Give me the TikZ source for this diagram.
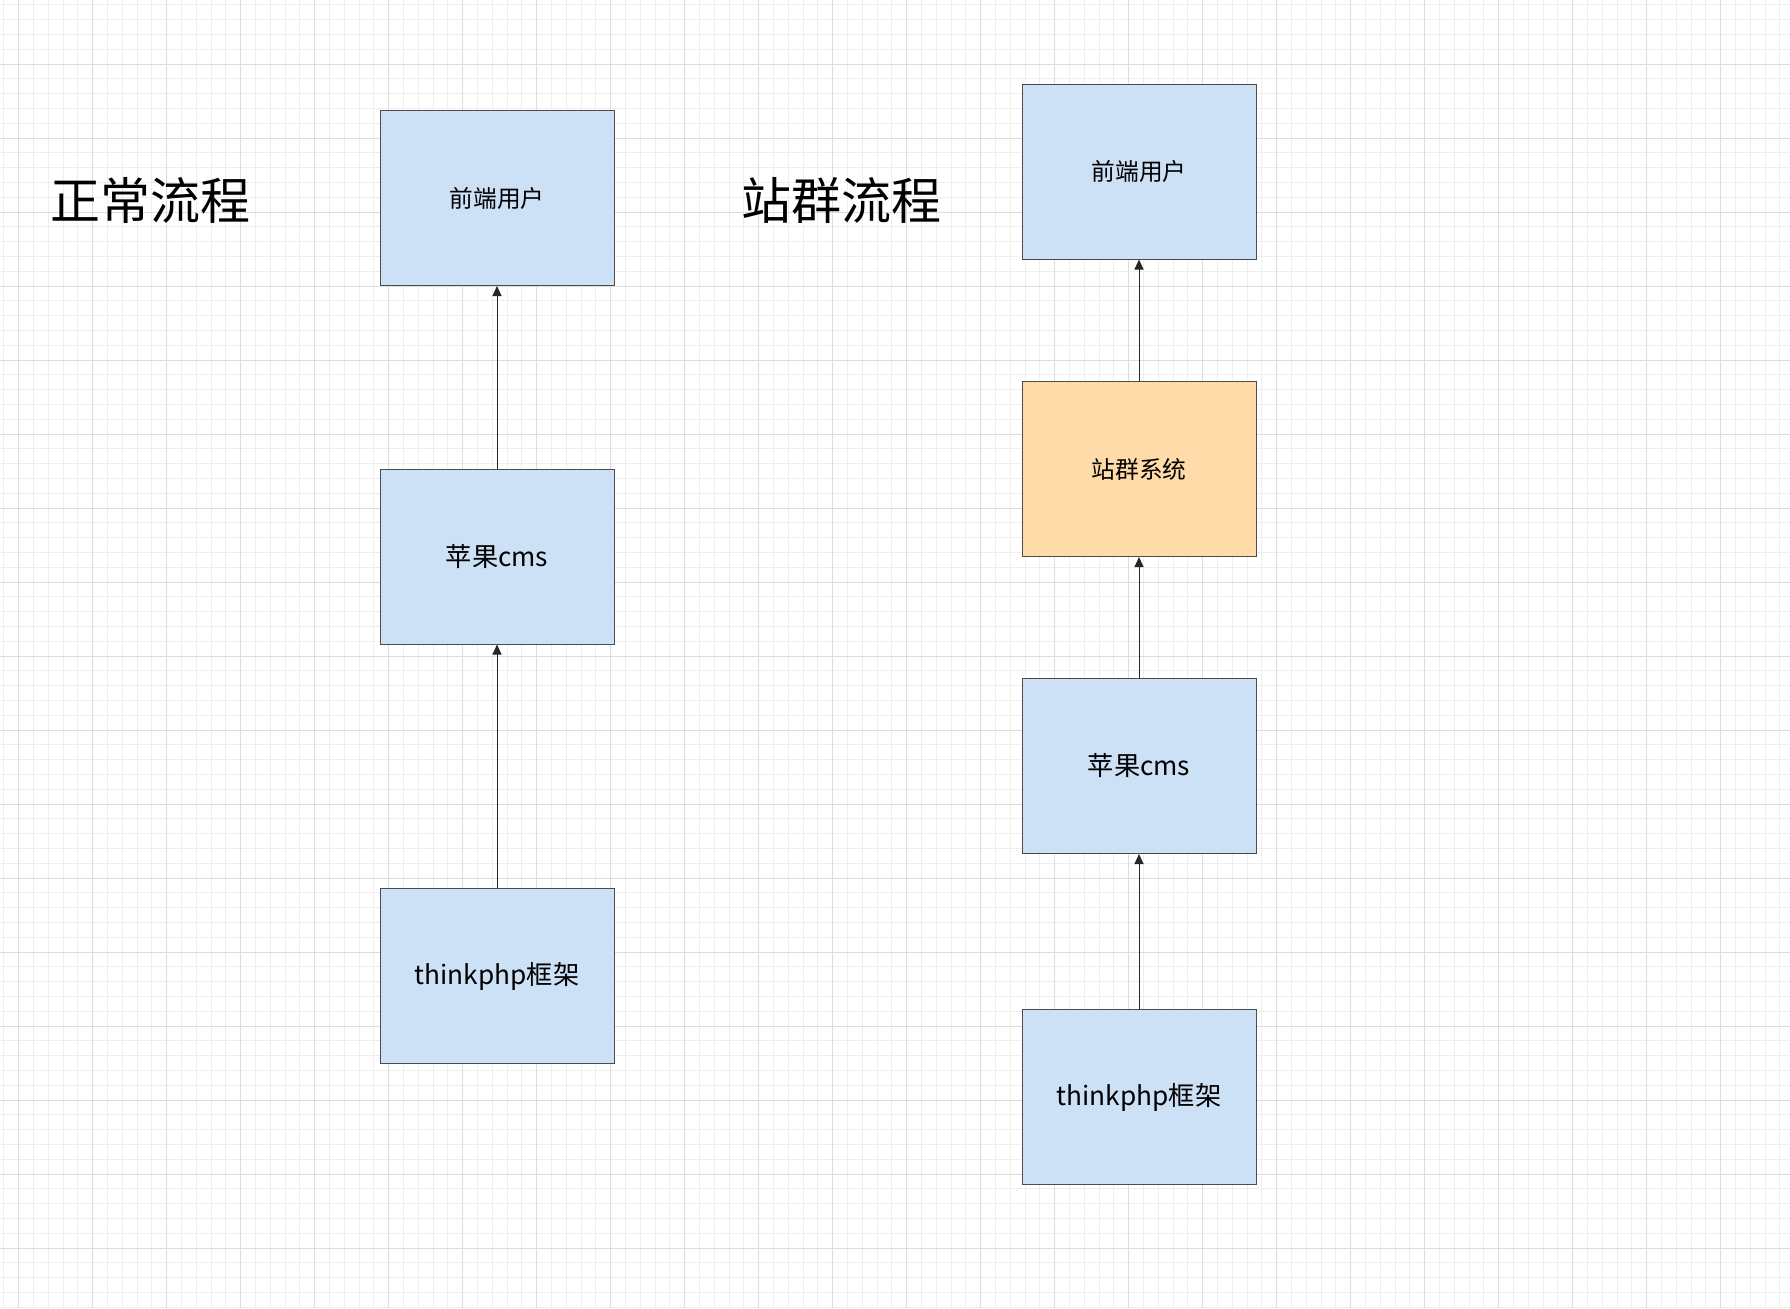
\documentclass[tikz,border=0pt]{standalone}
\usepackage{fontspec}
\setmainfont{Noto Sans CJK SC}
\usetikzlibrary{arrows.meta}
\definecolor{bluef}{HTML}{CCE1F6}
\definecolor{orangef}{HTML}{FFDBA9}
\definecolor{minorg}{HTML}{EEEEEE}
\definecolor{majorg}{HTML}{DDDDDD}
\begin{document}
\begin{tikzpicture}[x=0.4pt,y=-0.4pt,
  box/.style={draw=black!70,line width=0.4pt,fill=bluef,minimum width=93.6pt,minimum height=70pt,inner sep=0pt,font=\fontsize{9.5}{11}\selectfont},
  arr/.style={-{Triangle[length=4pt,width=3.6pt]},line width=0.4pt,black!85},
  ttl/.style={font=\fontsize{20}{24}\selectfont}]
\fill[white] (0,0) rectangle (1790,1308);
\useasboundingbox (0,0) rectangle (1790,1308);
\foreach \i in {0,...,121} {\draw[minorg,line width=0.3pt] ({3.7+14.8*\i},0) -- ({3.7+14.8*\i},1308);}
\foreach \i in {0,...,89} {\draw[minorg,line width=0.3pt] (0,{4.8+14.8*\i}) -- (1790,{4.8+14.8*\i});}
\foreach \i in {0,...,24} {\draw[majorg,line width=0.4pt] ({18.5+74*\i},0) -- ({18.5+74*\i},1308);}
\foreach \i in {0,...,18} {\draw[majorg,line width=0.4pt] (0,{64+74*\i}) -- (1790,{64+74*\i});}
\node[ttl] (t1) at (150,200) {正常流程};
\node[ttl] (t2) at (841,200) {站群流程};
\node[box] (a1) at (497,198) {前端用户};
\node[box] (a2) at (497,556.5) {\fontsize{10.5}{12}\selectfont 苹果cms};
\node[box] (a3) at (497,976) {\fontsize{10.5}{12}\selectfont thinkphp框架};
\node[box] (b1) at (1139,171.5) {前端用户};
\node[box,fill=orangef] (b2) at (1139,469) {站群系统};
\node[box] (b3) at (1139,766) {\fontsize{10.5}{12}\selectfont 苹果cms};
\node[box] (b4) at (1139,1097) {\fontsize{10.5}{12}\selectfont thinkphp框架};
\draw[arr] (a3) -- (a2);
\draw[arr] (a2) -- (a1);
\draw[arr] (b4) -- (b3);
\draw[arr] (b3) -- (b2);
\draw[arr] (b2) -- (b1);
\end{tikzpicture}
\end{document}
